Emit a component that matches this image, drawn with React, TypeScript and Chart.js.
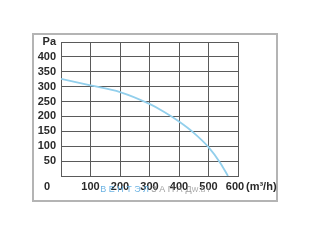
import React, { useEffect, useRef } from "react";
import { Chart, registerables } from "chart.js";

Chart.register(...registerables);

const flowValues = [0, 100, 200, 300, 350, 400, 450, 500, 540, 566];
const pressureValues = [326, 304, 282, 242, 215, 183, 145, 97, 44, 0];
const yTickTop = "Pa";
const xUnit = "(m³/h)";
const originLabel = "0";
const watermarkBlue = "ВЕНТЭЛ";
const watermarkGray = "ЗАПАД";
const watermarkTail = "W.BY";

const FONT = "'Liberation Sans', Arial, sans-serif";

const decorPlugin = {
  id: "decor",
  beforeDraw(chart: any) {
    const { ctx, chartArea } = chart;
    ctx.save();
    ctx.fillStyle = "#ffffff";
    ctx.fillRect(0, 0, chart.width, chart.height);
    ctx.strokeStyle = "#b4b4b4";
    ctx.lineWidth = 2;
    ctx.strokeRect(chartArea.left - 28, chartArea.top - 8, chartArea.right - chartArea.left + 67, chartArea.bottom - chartArea.top + 33);
    ctx.restore();
  },
  afterDraw(chart: any) {
    const { ctx, chartArea, scales } = chart;
    const x = scales.x;
    const yMid = chartArea.bottom + 11;
    ctx.save();
    ctx.font = `bold 11px ${FONT}`;
    ctx.fillStyle = "#2a2a2a";
    ctx.textBaseline = "middle";
    ctx.textAlign = "center";
    ctx.fillText(originLabel, x.getPixelForValue(0) - 14, yMid);
    ctx.textAlign = "left";
    ctx.fillText(xUnit, x.getPixelForValue(600) + 8, yMid);
    // watermark
    ctx.font = `9px ${FONT}`;
    (ctx as any).letterSpacing = "2.5px";
    ctx.fillStyle = "rgba(100,175,225,0.95)";
    const wx = x.getPixelForValue(133);
    ctx.fillText(watermarkBlue, wx, yMid + 3);
    const w1 = ctx.measureText(watermarkBlue).width;
    ctx.fillStyle = "rgba(140,140,140,0.85)";
    ctx.fillText(watermarkGray, wx + w1, yMid + 3);
    (ctx as any).letterSpacing = "0.5px";
    ctx.font = `7px ${FONT}`;
    ctx.fillStyle = "rgba(150,150,150,0.85)";
    ctx.fillText(watermarkTail, x.getPixelForValue(443), yMid + 3);
    ctx.restore();
  },
};

export default function App() {
  const ref = useRef<HTMLCanvasElement>(null);
  useEffect(() => {
    if (!ref.current) return;
    const chart = new Chart(ref.current, {
      type: "line",
      data: {
        datasets: [
          {
            data: flowValues.map((f, i) => ({ x: f, y: pressureValues[i] })),
            borderColor: "#92cfec",
            borderWidth: 1.8,
            pointRadius: 0,
            tension: 0.4,
            cubicInterpolationMode: "monotone",
            fill: false,
          },
        ],
      },
      plugins: [decorPlugin],
      options: {
        responsive: false,
        animation: false,
        layout: { padding: { left: 0, top: 42, right: 72, bottom: 53 } },
        plugins: { legend: { display: false }, tooltip: { enabled: false } },
        scales: {
          x: {
            type: "linear",
            min: 0,
            max: 600,
            afterFit: (s: any) => { s.height = 20; },
            ticks: {
              stepSize: 100,
              padding: 4,
              autoSkip: false,
              color: "#2a2a2a",
              font: { family: FONT, size: 11, weight: "bold" },
              callback: (v: any) => (v === 0 ? "" : v === 600 ? "600  " : String(v)),
              maxRotation: 0,
            },
            grid: { color: "#5a5a5a", lineWidth: 1, drawTicks: false },
            border: { color: "#5a5a5a", width: 1 },
          },
          y: {
            min: 0,
            max: 450,
            afterFit: (s: any) => { s.width = 61; },
            ticks: {
              stepSize: 50,
              padding: 5,
              autoSkip: false,
              color: "#2a2a2a",
              font: { family: FONT, size: 11, weight: "bold" },
              callback: (v: any) => (v === 450 ? yTickTop : v === 0 ? "" : String(v)),
            },
            grid: { color: "#5a5a5a", lineWidth: 1, drawTicks: false },
            border: { color: "#5a5a5a", width: 1 },
          },
        },
      },
    } as any);
    return () => chart.destroy();
  }, []);
  return (
    <div style={{ position: "absolute", left: 0, top: 0, width: 310, height: 249 }}>
      <canvas ref={ref} width={310} height={249} />
    </div>
  );
}
